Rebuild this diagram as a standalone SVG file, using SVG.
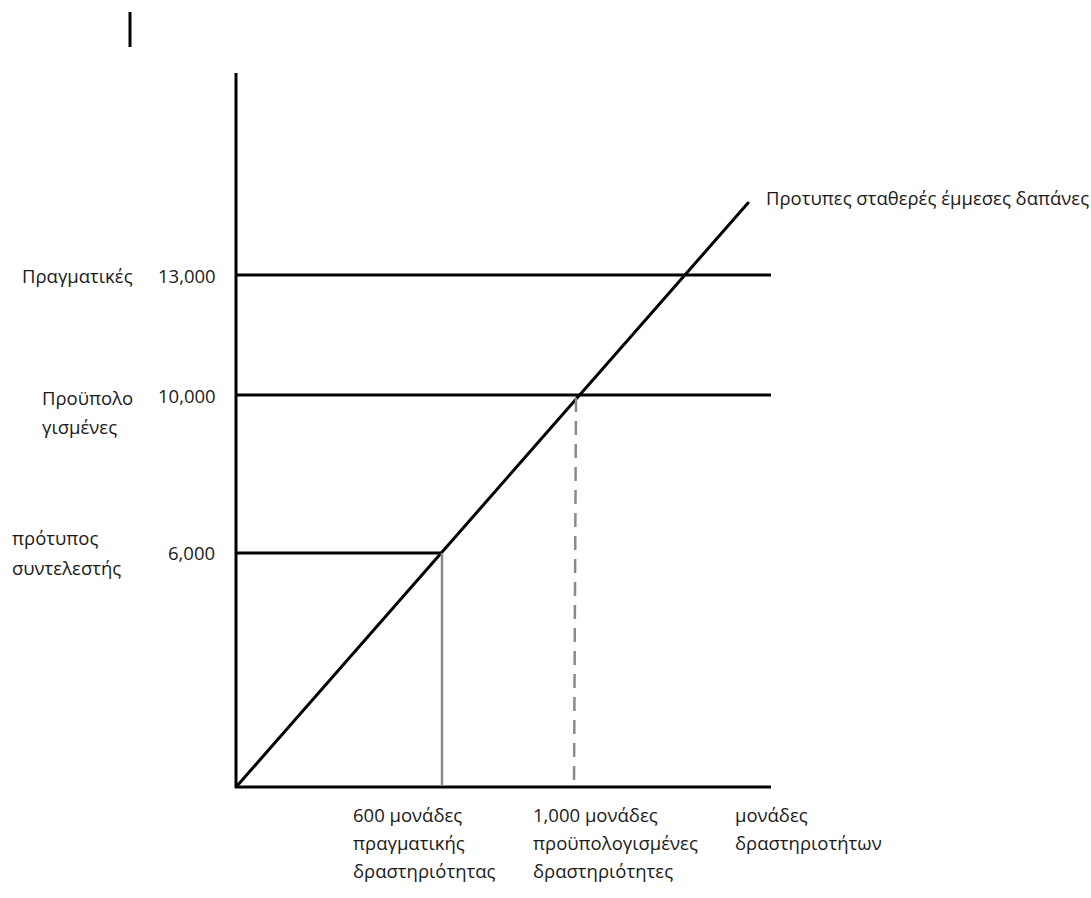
<svg xmlns="http://www.w3.org/2000/svg" width="1091" height="898" viewBox="0 0 1091 898">
  <style>
    .lbl { font-family: "Open Sans", "Noto Sans", sans-serif; font-size: 18.5px; fill: #1a1a1a; }
    .axis { stroke: #000; stroke-width: 3; fill: none; }
    .level { stroke: #000; stroke-width: 3; fill: none; }
    .drop { stroke: #8a8a8a; stroke-width: 2.5; fill: none; }
    .dash { stroke: #8a8a8a; stroke-width: 2.5; fill: none; stroke-dasharray: 14 9; }
  </style>
  <rect width="1091" height="898" fill="#fff"/>

  <!-- stray cursor mark -->
  <line x1="130" y1="12" x2="130" y2="47" stroke="#000" stroke-width="3"/>

  <g id="connectors">
    <!-- axes -->
    <line id="y-axis" class="axis" x1="236" y1="73" x2="236" y2="788"/>
    <line id="x-axis" class="axis" x1="235" y1="787" x2="771" y2="787"/>
    <!-- cost levels -->
    <line class="level" x1="236" y1="275" x2="771" y2="275"/>
    <line class="level" x1="236" y1="395" x2="771" y2="395"/>
    <line class="level" x1="236" y1="553" x2="442" y2="553"/>
    <!-- standard fixed overhead line -->
    <line class="axis" x1="237" y1="786" x2="748" y2="203" stroke-linecap="round"/>
    <!-- drop lines to activity axis -->
    <line class="drop" x1="442" y1="553" x2="442" y2="786"/>
    <line class="dash" x1="576" y1="398" x2="574" y2="786"/>
  </g>

  <g id="line-label">
    <text class="lbl" x="766" y="205">Προτυπες σταθερές έμμεσες δαπάνες</text>
  </g>

  <g id="actual">
    <text class="lbl" x="22" y="283">Πραγματικές</text>
    <text class="lbl" x="158" y="283">13,000</text>
  </g>

  <g id="budgeted">
    <text class="lbl" x="42" y="405">Προϋπολο</text>
    <text class="lbl" x="42" y="434">γισμένες</text>
    <text class="lbl" x="158" y="403">10,000</text>
  </g>

  <g id="standard-rate">
    <text class="lbl" x="12" y="545">πρότυπος</text>
    <text class="lbl" x="12" y="575">συντελεστής</text>
    <text class="lbl" x="168" y="560">6,000</text>
  </g>

  <g id="actual-activity">
    <text class="lbl" x="353" y="822">600 μονάδες</text>
    <text class="lbl" x="353" y="850">πραγματικής</text>
    <text class="lbl" x="353" y="878">δραστηριότητας</text>
  </g>

  <g id="budgeted-activity">
    <text class="lbl" x="533" y="822">1,000 μονάδες</text>
    <text class="lbl" x="533" y="850">προϋπολογισμένες</text>
    <text class="lbl" x="533" y="878">δραστηριότητες</text>
  </g>

  <g id="activity-units">
    <text class="lbl" x="735" y="822">μονάδες</text>
    <text class="lbl" x="735" y="850">δραστηριοτήτων</text>
  </g>
</svg>
